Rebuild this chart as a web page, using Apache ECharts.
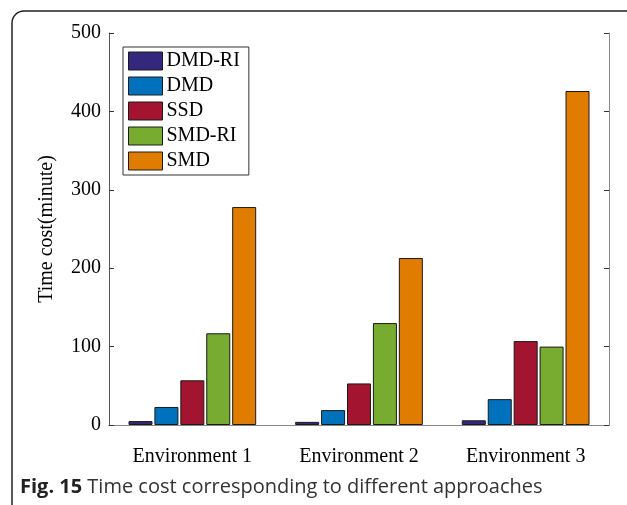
<!DOCTYPE html>
<html>
<head>
<meta charset="utf-8">
<script src="https://cdn.jsdelivr.net/npm/echarts@6/dist/echarts.min.js"></script>
<style>
html,body{margin:0;padding:0;background:#fff;}
#chart{width:627px;height:505px;}
</style>
</head>
<body>
<div id="chart"></div>
<script>
var categories = ['Environment 1', 'Environment 2', 'Environment 3'];
var seriesNames = ['DMD-RI', 'DMD', 'SSD', 'SMD-RI', 'SMD'];
var dmdRI = [5, 4, 6];
var dmd = [23, 19, 33];
var ssd = [57, 53, 107];
var smdRI = [117, 130, 100];
var smd = [278, 213, 426];
var yTicks = [0, 100, 200, 300, 400, 500];
var colors = ['#33287D', '#0072BD', '#A2142F', '#77AC30', '#E07C00'];
var values = [dmdRI, dmd, ssd, smdRI, smd];

var serif = 'Liberation Serif';
var chart = echarts.init(document.getElementById('chart'));

var series = seriesNames.map(function (n, i) {
  return {
    name: n,
    type: 'bar',
    data: values[i],
    barWidth: 24,
    barGap: '8%',
    itemStyle: { color: colors[i], borderColor: '#1a1a1a', borderWidth: 1 },
    emphasis: { disabled: true }
  };
});

chart.setOption({
  animation: false,
  backgroundColor: '#fff',
  grid: { left: 109, top: 33, right: 18, bottom: 80 },
  legend: {
    orient: 'vertical',
    left: 123,
    top: 47,
    data: seriesNames,
    itemWidth: 34,
    itemHeight: 18,
    itemGap: 5,
    padding: [4, 9, 4, 5],
    borderColor: '#333',
    borderWidth: 1,
    backgroundColor: '#fff',
    icon: 'rect',
    itemStyle: { borderColor: '#1a1a1a', borderWidth: 1 },
    textStyle: { fontFamily: serif, fontSize: 20, color: '#000', padding: [0, 0, 0, -1] }
  },
  xAxis: [{
    type: 'category',
    data: categories,
    axisLine: { lineStyle: { color: '#555', width: 1 } },
    axisTick: { show: false },
    axisLabel: { fontFamily: serif, fontSize: 20, color: '#000', margin: 22 }
  }, {
    type: 'category',
    data: categories,
    position: 'top',
    axisLine: { show: true, lineStyle: { color: '#888', width: 1 } },
    axisTick: { show: false },
    axisLabel: { show: false }
  }],
  yAxis: [{
    type: 'value',
    min: 0, max: 500, interval: 100,
    name: 'Time cost(minute)',
    nameLocation: 'middle',
    nameGap: 52,
    nameTextStyle: { fontFamily: serif, fontSize: 20, color: '#000' },
    axisLine: { show: true, lineStyle: { color: '#555', width: 1 } },
    axisTick: { show: true, inside: true, length: 5, lineStyle: { color: '#333' } },
    splitLine: { show: false },
    axisLabel: {
      fontFamily: serif, fontSize: 20, color: '#000', margin: 8,
      formatter: function (v) { return yTicks.indexOf(v) >= 0 ? String(v) : ''; }
    }
  }, {
    type: 'value',
    min: 0, max: 500, interval: 100,
    position: 'right',
    axisLine: { show: true, lineStyle: { color: '#888', width: 1 } },
    axisTick: { show: true, inside: true, length: 5, lineStyle: { color: '#333' } },
    splitLine: { show: false },
    axisLabel: { show: false }
  }],
  series: series,
  graphic: [{
    type: 'rect',
    shape: { x: 12, y: 11, width: 700, height: 600, r: 12 },
    style: { fill: 'none', stroke: '#222', lineWidth: 1.5 },
    silent: true
  }, {
    type: 'text',
    left: 20,
    top: 477,
    style: {
      text: '{b|Fig. 15} Time cost corresponding to different approaches',
      rich: {
        b: { fontFamily: 'Open Sans', fontWeight: 'bold', fontSize: 20, fill: '#222' }
      },
      fontFamily: 'Open Sans',
      fontSize: 20,
      fill: '#333'
    }
  }]
});
</script>
</body>
</html>
